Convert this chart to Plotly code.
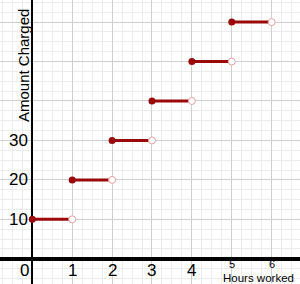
import plotly.graph_objects as go

hours_start = [0, 1, 2, 3, 4, 5]
hours_end = [1, 2, 3, 4, 5, 6]
charge = [10, 20, 30, 40, 50, 60]
x_tick_vals = [0, 1, 2, 3, 4]
x_tick_text = ["0", "1", "2", "3", "4"]
x_small_vals = [5, 6]
y_tick_vals = [10, 20, 30]
y_tick_text = ["10", "20", "30"]

RED = "#9b0a0a"
fig = go.Figure()
for xs, xe, c in zip(hours_start, hours_end, charge):
    fig.add_trace(go.Scatter(x=[xs, xe], y=[c, c], mode="lines",
                             line=dict(color=RED, width=3), showlegend=False, hoverinfo="skip"))
fig.add_trace(go.Scatter(x=hours_start, y=charge, mode="markers",
                         marker=dict(color=RED, size=7), showlegend=False))
fig.add_trace(go.Scatter(x=hours_end, y=charge, mode="markers",
                         marker=dict(color="white", size=7, line=dict(color="#e8a0a0", width=1)),
                         showlegend=False))

font = "Liberation Sans, Arial, sans-serif"
ann = []
for v, t in zip(x_tick_vals, x_tick_text):
    ann.append(dict(x=v - (0.2 if v == 0 else 0), y=-2.9, xref="x", yref="y", text=t, showarrow=False,
                    font=dict(size=17, color="black", family=font)))
for v in x_small_vals:
    ann.append(dict(x=v, y=-1.2, xref="x", yref="y", text=str(v), showarrow=False,
                    font=dict(size=11, color="black", family=font)))
for v, t in zip(y_tick_vals, y_tick_text):
    ann.append(dict(x=-0.35, y=v, xref="x", yref="y", text=t, showarrow=False, xanchor="center",
                    font=dict(size=17, color="black", family=font)))
ann.append(dict(x=5.66, y=-4.9, xref="x", yref="y", text="Hours worked", showarrow=False,
                font=dict(size=11.5, color="black", family=font)))
ann.append(dict(x=-0.22, y=49, xref="x", yref="y", text="Amount Charged", showarrow=False,
                textangle=-90, font=dict(size=15, color="black", family=font)))

fig.update_layout(
    width=300, height=284, margin=dict(l=0, r=0, t=0, b=0),
    plot_bgcolor="white", paper_bgcolor="white",
    xaxis=dict(range=[-0.81, 6.71], dtick=1, tick0=0, showticklabels=False, ticks="",
               gridcolor="#cfcfcf", gridwidth=1,
               minor=dict(dtick=0.25, gridcolor="#ececec", showgrid=True),
               zeroline=True, zerolinecolor="black", zerolinewidth=2, fixedrange=True),
    yaxis=dict(range=[-6.39, 65.6], dtick=10, tick0=0, showticklabels=False, ticks="",
               gridcolor="#cfcfcf", gridwidth=1,
               minor=dict(dtick=2.5, gridcolor="#ececec", showgrid=True),
               zeroline=True, zerolinecolor="black", zerolinewidth=4, fixedrange=True),
    annotations=ann,
)
fig.write_html("out.html")
